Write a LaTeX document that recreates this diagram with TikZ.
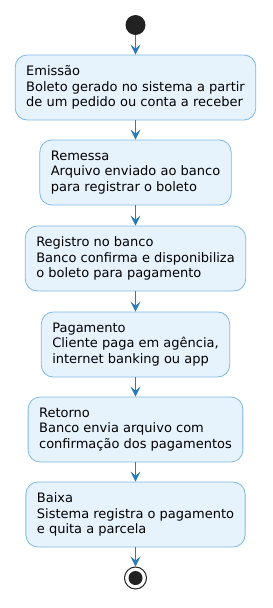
\documentclass[tikz,border=0pt]{standalone}
\usepackage{fontspec}
\setmainfont{DejaVu Sans}
\usetikzlibrary{arrows.meta}
\definecolor{boxfill}{HTML}{E6F3FD}
\definecolor{boxline}{HTML}{7FB8E2}
\definecolor{arrowcol}{HTML}{2B7BB9}
\definecolor{dotcol}{HTML}{222222}
\begin{document}
\begin{tikzpicture}[x=1pt,y=-1pt,
  actbox/.style={draw=boxline, fill=boxfill, rounded corners=12pt, line width=0.8pt,
    align=left, inner xsep=11pt, inner ysep=0pt, minimum height=65pt,
    font=\fontsize{13}{15.5}\selectfont},
  flow/.style={draw=arrowcol, line width=1pt, -{Stealth[length=10pt,width=10pt,inset=4pt]}}]
\useasboundingbox (0,0) rectangle (273,608);
\node[circle, fill=dotcol, minimum size=20pt, inner sep=0pt] (start) at (135.5,25) {};
\node[actbox] (b1) at (135.5,87.5) {Emissão\\Boleto gerado no sistema a partir\\de um pedido ou conta a receber};
\node[actbox] (b2) at (135.5,172.5) {Remessa\\Arquivo enviado ao banco\\para registrar o boleto};
\node[actbox] (b3) at (135.5,258.5) {Registro no banco\\Banco confirma e disponibiliza\\o boleto para pagamento};
\node[actbox] (b4) at (135.5,344.5) {Pagamento\\Cliente paga em agência,\\internet banking ou app};
\node[actbox] (b5) at (135.5,429.5) {Retorno\\Banco envia arquivo com\\confirmação dos pagamentos};
\node[actbox] (b6) at (135.5,514.5) {Baixa\\Sistema registra o pagamento\\e quita a parcela};
\node[circle, draw=dotcol, fill=white, line width=1pt, minimum size=22pt, inner sep=0pt] (stop) at (135.5,578) {};
\node[circle, fill=dotcol, minimum size=14pt, inner sep=0pt] (stopdot) at (stop.center) {};
\draw[flow] (start) -- (b1);
\draw[flow] (b1) -- (b2);
\draw[flow] (b2) -- (b3);
\draw[flow] (b3) -- (b4);
\draw[flow] (b4) -- (b5);
\draw[flow] (b5) -- (b6);
\draw[flow] (b6) -- (stop);
\end{tikzpicture}
\end{document}
